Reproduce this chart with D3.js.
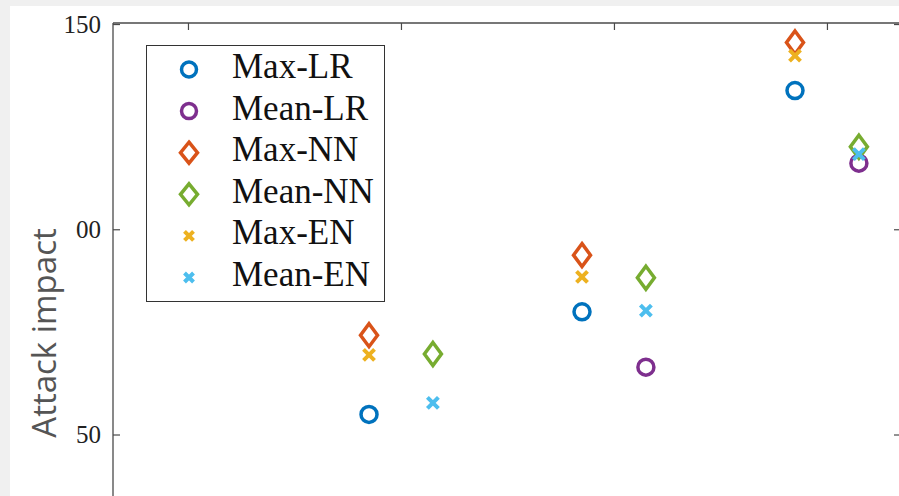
<!DOCTYPE html>
<html>
<head>
<meta charset="utf-8">
<script src="https://cdn.jsdelivr.net/npm/d3@7"></script>
<style>
  html, body { margin: 0; padding: 0; background: #f0f0f0; }
  svg { display: block; }
</style>
</head>
<body>
<svg id="chart" width="899" height="496"></svg>
<script>
// ---- data ----
const categories = [1, 2, 3, 4];              // group positions on the x axis
const seriesNames = ["Max-LR", "Mean-LR", "Max-NN", "Mean-NN", "Max-EN", "Mean-EN"];
const seriesColors = ["#0072BD", "#7E2F8E", "#D95319", "#77AC30", "#EDB120", "#4DBEEE"];
const seriesShapes = ["circle", "circle", "diamond", "diamond", "x", "x"];
const seriesOffset = [-0.15, 0.15, -0.15, 0.15, -0.15, 0.15]; // Max left, Mean right
// values per category (null = outside visible area)
const maxLR  = [null, 54.9, 79.9, 133.8];
const meanLR = [null, null, 66.4, 116.1];
const maxNN  = [null, 74.2, 93.7, 145.5];
const meanNN = [null, 69.6, 88.2, 120.1];
const maxEN  = [null, 69.4, 88.4, 142.3];
const meanEN = [null, 57.7, 80.2, 118.3];
const seriesValues = [maxLR, meanLR, maxNN, meanNN, maxEN, meanEN];
const yTicks = [50, 100, 150];
const yTickLabels = ["50", "00", "150"];
const yLabel = "Attack impact";

// ---- layout ----
const svg = d3.select("#chart");
svg.append("rect").attr("x", 10).attr("y", 6).attr("width", 899).attr("height", 496).attr("fill", "#fff");

const plotLeft = 113, plotRight = 899, plotTop = 23;
const x = d3.scaleLinear().domain([0.648, 4.343]).range([plotLeft, plotRight + 1]);
const y = d3.scaleLinear().domain([30, 150.3]).range([516.6, 22.8]);

const axisColor = "#4a4a4a";

// left axis
const gl = svg.append("g").attr("transform", `translate(${plotLeft},0)`)
  .call(d3.axisLeft(y).tickValues(yTicks).tickSize(-7).tickSizeOuter(0).tickPadding(12)
    .tickFormat((d, i) => yTickLabels[i]));
gl.select(".domain").remove();
gl.selectAll(".tick line").attr("stroke", axisColor).attr("stroke-width", 1.2);
gl.selectAll(".tick text").attr("font-family", "'Liberation Serif', 'Times New Roman', serif")
  .attr("font-size", 25).attr("fill", "#222");

// right axis (ticks only)
const gr = svg.append("g").attr("transform", `translate(${plotRight + 1},0)`)
  .call(d3.axisRight(y).tickValues(yTicks).tickSize(-6).tickSizeOuter(0).tickFormat(""));
gr.select(".domain").remove();
gr.selectAll(".tick line").attr("stroke", axisColor).attr("stroke-width", 1.2);

// top axis (ticks only)
const gt = svg.append("g").attr("transform", `translate(0,${plotTop})`)
  .call(d3.axisTop(x).tickValues(categories).tickSize(-7).tickSizeOuter(0).tickFormat(""));
gt.select(".domain").remove();
gt.selectAll(".tick line").attr("stroke", axisColor).attr("stroke-width", 1.2);

// axis box lines
svg.append("line").attr("x1", plotLeft).attr("x2", plotLeft).attr("y1", plotTop).attr("y2", 496)
  .attr("stroke", axisColor).attr("stroke-width", 1.3);
svg.append("line").attr("x1", plotLeft).attr("x2", 899).attr("y1", plotTop).attr("y2", plotTop)
  .attr("stroke", axisColor).attr("stroke-width", 1.3);

// y label
svg.append("text")
  .attr("transform", `translate(56,${333}) rotate(-90)`)
  .attr("text-anchor", "middle")
  .attr("font-family", "'Open Sans', sans-serif")
  .attr("font-size", 33)
  .attr("fill", "#555")
  .text(yLabel);

// ---- markers ----
function drawMarker(g, shape, color, cx, cy, legend) {
  if (shape === "circle") {
    g.append("circle").attr("cx", cx).attr("cy", cy).attr("r", legend ? 7.5 : 8)
      .attr("fill", "none").attr("stroke", color).attr("stroke-width", 3.5);
  } else if (shape === "diamond") {
    const hw = 8.5, hh = legend ? 10.5 : 11.5;
    g.append("path")
      .attr("d", `M${cx},${cy - hh}L${cx + hw},${cy}L${cx},${cy + hh}L${cx - hw},${cy}Z`)
      .attr("fill", "none").attr("stroke", color).attr("stroke-width", 3.5).attr("stroke-linejoin", "miter");
  } else {
    const s = legend ? 4.5 : 5.5;
    g.append("path")
      .attr("d", `M${cx - s},${cy - s}L${cx + s},${cy + s}M${cx - s},${cy + s}L${cx + s},${cy - s}`)
      .attr("fill", "none").attr("stroke", color).attr("stroke-width", 4);
  }
}

const marks = svg.append("g");
seriesValues.forEach((vals, si) => {
  vals.forEach((v, ci) => {
    if (v === null) return;
    drawMarker(marks, seriesShapes[si], seriesColors[si], x(categories[ci] + seriesOffset[si]), y(v), false);
  });
});

// ---- legend ----
const lg = svg.append("g");
lg.append("rect").attr("x", 146.5).attr("y", 45.5).attr("width", 238).attr("height", 256)
  .attr("fill", "#fff").attr("stroke", "#333").attr("stroke-width", 1);
seriesNames.forEach((name, i) => {
  const cy = 69.5 + i * 41.6;
  drawMarker(lg, seriesShapes[i], seriesColors[i], 189, cy, true);
  lg.append("text").attr("x", 232).attr("y", cy + 8.5)
    .attr("font-family", "'Liberation Serif', 'Times New Roman', serif")
    .attr("font-size", 35).attr("fill", "#111").text(name);
});
</script>
</body>
</html>
